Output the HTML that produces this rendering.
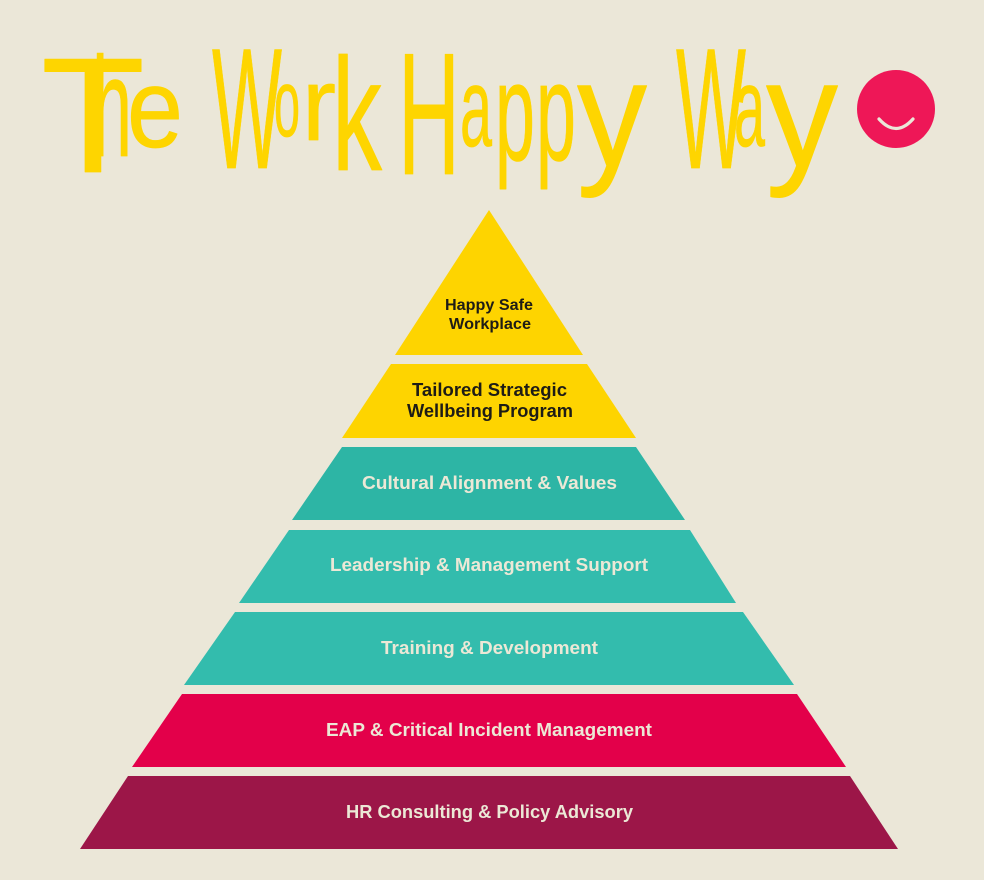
<!DOCTYPE html>
<html><head><meta charset="utf-8"><style>
html,body{margin:0;padding:0;background:#EBE7D8;}
svg{display:block;}
.t{font-family:"Liberation Sans",sans-serif;font-weight:700;}
.ti{font-family:"Liberation Sans Narrow","Liberation Sans",sans-serif;font-weight:400;fill:#FED500;stroke:#FED500;stroke-width:0.8;stroke-linejoin:round;}
</style></head><body>
<svg width="984" height="880" viewBox="0 0 984 880" xmlns="http://www.w3.org/2000/svg">
<rect width="984" height="880" fill="#EBE7D8"/>
<!-- Title -->
<g class="ti">
<text x="41" y="172" font-size="164" textLength="104" lengthAdjust="spacingAndGlyphs">T</text>
<text x="92" y="156" font-size="142" textLength="40" lengthAdjust="spacingAndGlyphs">h</text>
<text x="127" y="147" font-size="112" textLength="56" lengthAdjust="spacingAndGlyphs">e</text>
<text x="212" y="168" font-size="172" textLength="70" lengthAdjust="spacingAndGlyphs">W</text>
<text x="274" y="136" font-size="96" textLength="26" lengthAdjust="spacingAndGlyphs">o</text>
<text x="302" y="140" font-size="104" textLength="34" lengthAdjust="spacingAndGlyphs">r</text>
<text x="332" y="170" font-size="160" textLength="50" lengthAdjust="spacingAndGlyphs">k</text>
<text x="398" y="174" font-size="174" textLength="62" lengthAdjust="spacingAndGlyphs">H</text>
<text x="460" y="146" font-size="112" textLength="32" lengthAdjust="spacingAndGlyphs">a</text>
<text x="495" y="160" font-size="140" textLength="40" lengthAdjust="spacingAndGlyphs">p</text>
<text x="536" y="160" font-size="140" textLength="40" lengthAdjust="spacingAndGlyphs">p</text>
<text x="577" y="166" font-size="152" textLength="70" lengthAdjust="spacingAndGlyphs">y</text>
<text x="676" y="168" font-size="172" textLength="70" lengthAdjust="spacingAndGlyphs">W</text>
<text x="734" y="146" font-size="112" textLength="31" lengthAdjust="spacingAndGlyphs">a</text>
<text x="766" y="166" font-size="152" textLength="72" lengthAdjust="spacingAndGlyphs">y</text>
</g>
<!-- Smiley -->
<circle cx="896" cy="109" r="39" fill="#EE1757"/>
<path d="M879 119 Q896 138 913 119" fill="none" stroke="#EBE7D8" stroke-width="3.2" stroke-linecap="round"/>
<!-- Pyramid -->
<polygon points="489,210 583,355 395,355" fill="#FED400"/>
<polygon points="391,364 587,364 636,438 342,438" fill="#FED400"/>
<polygon points="342,447 636,447 685,520 292,520" fill="#2DB5A5"/>
<polygon points="289,530 690,530 736,603 239,603" fill="#33BCAD"/>
<polygon points="235,612 743,612 794,685 184,685" fill="#33BCAD"/>
<polygon points="182,694 797,694 846,767 132,767" fill="#E3004A"/>
<polygon points="128,776 850,776 898,849 80,849" fill="#9C1648"/>
<!-- Labels -->
<g class="t">
<text x="445" y="310" font-size="16" fill="#1E1C16" textLength="88" lengthAdjust="spacingAndGlyphs">Happy Safe</text>
<text x="449" y="329" font-size="16" fill="#1E1C16" textLength="82" lengthAdjust="spacingAndGlyphs">Workplace</text>
<text x="412" y="396" font-size="18" fill="#1E1C16" textLength="155" lengthAdjust="spacingAndGlyphs">Tailored Strategic</text>
<text x="407" y="417" font-size="18" fill="#1E1C16" textLength="166" lengthAdjust="spacingAndGlyphs">Wellbeing Program</text>
<text x="362" y="489" font-size="18" fill="#ECE8D6" textLength="255" lengthAdjust="spacingAndGlyphs">Cultural Alignment &amp; Values</text>
<text x="330" y="571" font-size="18" fill="#ECE8D6" textLength="318" lengthAdjust="spacingAndGlyphs">Leadership &amp; Management Support</text>
<text x="381" y="654" font-size="18" fill="#ECE8D6" textLength="217" lengthAdjust="spacingAndGlyphs">Training &amp; Development</text>
<text x="326" y="736" font-size="18" fill="#ECE8D6" textLength="326" lengthAdjust="spacingAndGlyphs">EAP &amp; Critical Incident Management</text>
<text x="346" y="818" font-size="18" fill="#ECE8D6" textLength="287" lengthAdjust="spacingAndGlyphs">HR Consulting &amp; Policy Advisory</text>
</g>
</svg>
</body></html>
